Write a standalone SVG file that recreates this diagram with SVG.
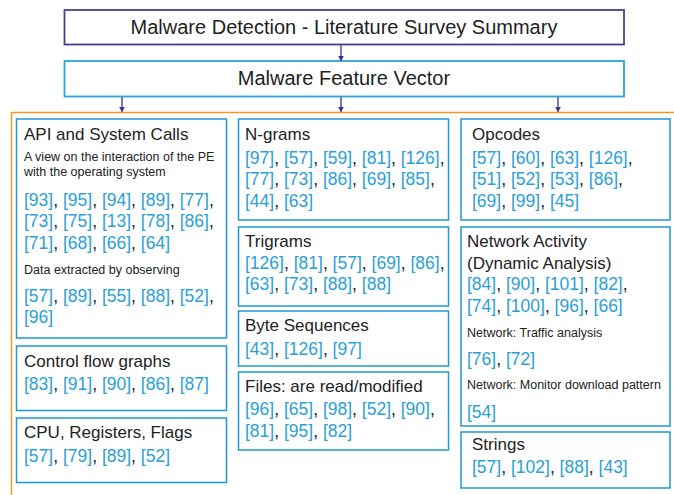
<svg xmlns="http://www.w3.org/2000/svg" width="674" height="495" viewBox="0 0 674 495">
<defs>
<marker id="ah" markerWidth="6" markerHeight="6" refX="5" refY="3" orient="auto" markerUnits="userSpaceOnUse">
<path d="M0,0 L6,3 L0,6 Z" fill="#3a348c"/>
</marker>
<style>
text{font-family:"Liberation Sans",Arial,sans-serif;fill:#222;}
.big{font-size:20px;text-anchor:middle;}
.t{font-size:17px;}
.s{font-size:12.5px;}
.r{font-size:17.5px;}
.c{fill:#2a9fd8;}
.box{fill:#fff;stroke:#1f98d2;stroke-width:1.5;}
.conn{stroke:#3a348c;stroke-width:1.3;fill:none;marker-end:url(#ah);}
</style>
</defs>
<rect width="674" height="495" fill="#fff"/>
<g id="container">
<rect x="11.5" y="112.5" width="700" height="420" fill="none" stroke="#f29a1e" stroke-width="1.5"/>
</g>
<g id="title">
<rect x="64.5" y="10" width="559.5" height="34.5" fill="#fff" stroke="#4a3d8f" stroke-width="1.8"/>
<text class="big" x="344" y="34">Malware Detection - Literature Survey Summary</text>
</g>
<g id="feature">
<rect x="64.5" y="61" width="559.5" height="35.5" fill="#fff" stroke="#2aa6dc" stroke-width="1.8"/>
<text class="big" x="344" y="85">Malware Feature Vector</text>
</g>
<g id="connectors">
<line class="conn" x1="341" y1="45" x2="341" y2="60.5"/>
<line class="conn" x1="122" y1="97" x2="122" y2="111.5"/>
<line class="conn" x1="341" y1="97" x2="341" y2="111.5"/>
<line class="conn" x1="558" y1="97" x2="558" y2="111.5"/>
</g>
<g id="api">
<rect class="box" x="16.5" y="119" width="210" height="219"/>
<text class="t" x="24" y="140">API and System Calls</text>
<text class="s" x="24" y="160.5">A view on the interaction of the PE</text>
<text class="s" x="24" y="176">with the operating system</text>
<text class="r" x="24" y="205.5"><tspan class="c">[93]</tspan>, <tspan class="c">[95]</tspan>, <tspan class="c">[94]</tspan>, <tspan class="c">[89]</tspan>, <tspan class="c">[77]</tspan>,</text>
<text class="r" x="24" y="227"><tspan class="c">[73]</tspan>, <tspan class="c">[75]</tspan>, <tspan class="c">[13]</tspan>, <tspan class="c">[78]</tspan>, <tspan class="c">[86]</tspan>,</text>
<text class="r" x="24" y="248.5"><tspan class="c">[71]</tspan>, <tspan class="c">[68]</tspan>, <tspan class="c">[66]</tspan>, <tspan class="c">[64]</tspan></text>
<text class="s" x="24" y="274">Data extracted by observing</text>
<text class="r" x="24" y="301.5"><tspan class="c">[57]</tspan>, <tspan class="c">[89]</tspan>, <tspan class="c">[55]</tspan>, <tspan class="c">[88]</tspan>, <tspan class="c">[52]</tspan>,</text>
<text class="r" x="24" y="323"><tspan class="c">[96]</tspan></text>
</g>
<g id="cfg">
<rect class="box" x="16.5" y="346" width="210" height="64.5"/>
<text class="t" x="24" y="366.5">Control flow graphs</text>
<text class="r" x="24" y="390"><tspan class="c">[83]</tspan>, <tspan class="c">[91]</tspan>, <tspan class="c">[90]</tspan>, <tspan class="c">[86]</tspan>, <tspan class="c">[87]</tspan></text>
</g>
<g id="cpu">
<rect class="box" x="16.5" y="418" width="210" height="64.5"/>
<text class="t" x="24" y="438">CPU, Registers, Flags</text>
<text class="r" x="24" y="461.5"><tspan class="c">[57]</tspan>, <tspan class="c">[79]</tspan>, <tspan class="c">[89]</tspan>, <tspan class="c">[52]</tspan></text>
</g>
<g id="ngrams">
<rect class="box" x="238.5" y="119" width="210" height="101"/>
<text class="t" x="245" y="139.5">N-grams</text>
<text class="r" x="245" y="163.5"><tspan class="c">[97]</tspan>, <tspan class="c">[57]</tspan>, <tspan class="c">[59]</tspan>, <tspan class="c">[81]</tspan>, <tspan class="c">[126]</tspan>,</text>
<text class="r" x="245" y="185"><tspan class="c">[77]</tspan>, <tspan class="c">[73]</tspan>, <tspan class="c">[86]</tspan>, <tspan class="c">[69]</tspan>, <tspan class="c">[85]</tspan>,</text>
<text class="r" x="245" y="206.5"><tspan class="c">[44]</tspan>, <tspan class="c">[63]</tspan></text>
</g>
<g id="trigrams">
<rect class="box" x="238.5" y="227" width="210" height="79"/>
<text class="t" x="245" y="246.5">Trigrams</text>
<text class="r" x="245" y="268.5"><tspan class="c">[126]</tspan>, <tspan class="c">[81]</tspan>, <tspan class="c">[57]</tspan>, <tspan class="c">[69]</tspan>, <tspan class="c">[86]</tspan>,</text>
<text class="r" x="245" y="290"><tspan class="c">[63]</tspan>, <tspan class="c">[73]</tspan>, <tspan class="c">[88]</tspan>, <tspan class="c">[88]</tspan></text>
</g>
<g id="bytes">
<rect class="box" x="238.5" y="311" width="210" height="55"/>
<text class="t" x="245" y="330.5">Byte Sequences</text>
<text class="r" x="245" y="354.5"><tspan class="c">[43]</tspan>, <tspan class="c">[126]</tspan>, <tspan class="c">[97]</tspan></text>
</g>
<g id="files">
<rect class="box" x="238.5" y="372" width="210" height="78"/>
<text class="t" x="245" y="391.5">Files: are read/modified</text>
<text class="r" x="245" y="415"><tspan class="c">[96]</tspan>, <tspan class="c">[65]</tspan>, <tspan class="c">[98]</tspan>, <tspan class="c">[52]</tspan>, <tspan class="c">[90]</tspan>,</text>
<text class="r" x="245" y="436.5"><tspan class="c">[81]</tspan>, <tspan class="c">[95]</tspan>, <tspan class="c">[82]</tspan></text>
</g>
<g id="opcodes">
<rect class="box" x="461" y="119" width="209" height="101"/>
<text class="t" x="472" y="139.5">Opcodes</text>
<text class="r" x="472" y="163.5"><tspan class="c">[57]</tspan>, <tspan class="c">[60]</tspan>, <tspan class="c">[63]</tspan>, <tspan class="c">[126]</tspan>,</text>
<text class="r" x="472" y="185"><tspan class="c">[51]</tspan>, <tspan class="c">[52]</tspan>, <tspan class="c">[53]</tspan>, <tspan class="c">[86]</tspan>,</text>
<text class="r" x="472" y="206.5"><tspan class="c">[69]</tspan>, <tspan class="c">[99]</tspan>, <tspan class="c">[45]</tspan></text>
</g>
<g id="network">
<rect class="box" x="461" y="227" width="209" height="199"/>
<text class="t" x="467" y="246.5">Network Activity</text>
<text class="t" x="467" y="268.5">(Dynamic Analysis)</text>
<text class="r" x="467" y="290"><tspan class="c">[84]</tspan>, <tspan class="c">[90]</tspan>, <tspan class="c">[101]</tspan>, <tspan class="c">[82]</tspan>,</text>
<text class="r" x="467" y="312"><tspan class="c">[74]</tspan>, <tspan class="c">[100]</tspan>, <tspan class="c">[96]</tspan>, <tspan class="c">[66]</tspan></text>
<text class="s" x="467" y="336.5">Network: Traffic analysis</text>
<text class="r" x="467" y="365"><tspan class="c">[76]</tspan>, <tspan class="c">[72]</tspan></text>
<text class="s" x="467" y="389">Network: Monitor download pattern</text>
<text class="r" x="467" y="418"><tspan class="c">[54]</tspan></text>
</g>
<g id="strings">
<rect class="box" x="461" y="432" width="209" height="56"/>
<text class="t" x="472" y="450">Strings</text>
<text class="r" x="472" y="473"><tspan class="c">[57]</tspan>, <tspan class="c">[102]</tspan>, <tspan class="c">[88]</tspan>, <tspan class="c">[43]</tspan></text>
</g>
</svg>
